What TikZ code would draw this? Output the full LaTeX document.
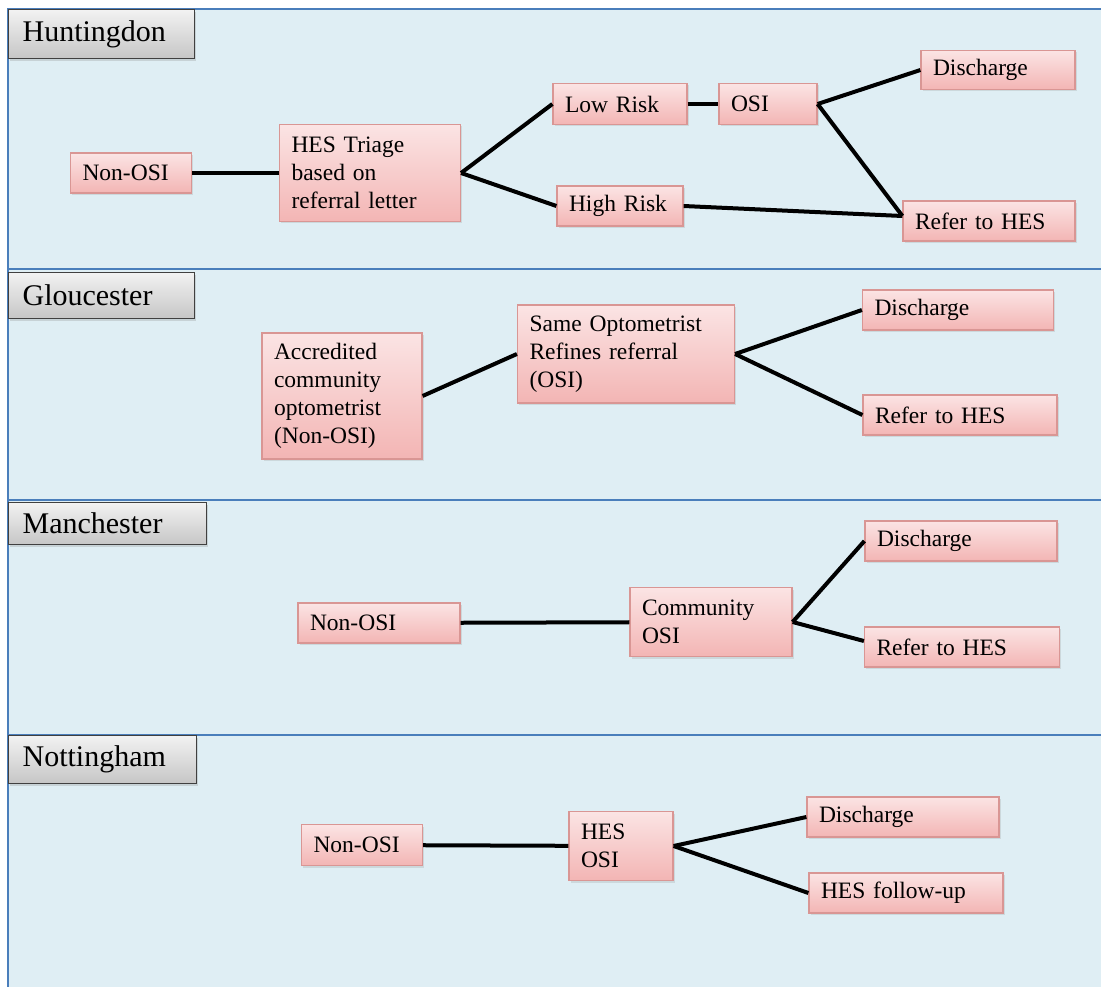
\documentclass[tikz,border=0pt]{standalone}
\usepackage{fontspec}
\setmainfont{Liberation Serif}
\usetikzlibrary{shadows}
\definecolor{panelfill}{HTML}{DFEEF4}
\definecolor{panelline}{HTML}{4A7EBB}
\definecolor{boxtop}{HTML}{FBE4E4}
\definecolor{boxbot}{HTML}{F3B5B4}
\definecolor{boxline}{HTML}{D99694}
\definecolor{tabtop}{HTML}{F2F2F2}
\definecolor{tabbot}{HTML}{C6C6C6}
\tikzset{
  box/.style={rectangle, draw=boxline, line width=1.2pt, top color=boxtop, bottom color=boxbot,
    align=left, inner xsep=12pt, inner ysep=4pt, font=\fontsize{23.5}{28}\selectfont,
    drop shadow={opacity=0.2, shadow xshift=1.5pt, shadow yshift=-2pt}},
  tab/.style={rectangle, draw=black!75, line width=1.2pt, top color=tabtop, bottom color=tabbot,
    anchor=north west, align=left, inner xsep=14pt, inner ysep=0pt, font=\fontsize{30}{32}\selectfont,
    drop shadow={opacity=0.25, shadow xshift=1.5pt, shadow yshift=-2pt}},
  link/.style={line width=4pt},
  sep/.style={draw=panelline, line width=2pt}
}
\begin{document}
\begin{tikzpicture}[x=1pt, y=-1pt]
\useasboundingbox (0,0) rectangle (1101,987);
\fill[panelfill] (8,9) rectangle (1110,995);
\draw[sep] (8,995) -- (8,9) -- (1110,9);
\draw[sep] (8,269) -- (1110,269);
\draw[sep] (8,500) -- (1110,500);
\draw[sep] (8,735) -- (1110,735);

\node[tab, text width=158pt, minimum height=49pt] (TH) at (8,9) {Huntingdon};
\node[tab, text width=158pt, minimum height=46pt] (TG) at (8,272) {Gloucester};
\node[tab, text width=170pt, minimum height=42pt] (TM) at (8,502) {Manchester};
\node[tab, text width=160pt, minimum height=48pt] (TN) at (8,735) {Nottingham};

\node[box, text width=97pt, minimum height=40pt] (HN) at (131,173) {Non-OSI};
\node[box, text width=157pt, minimum height=97pt] (HT) at (370,173) {HES Triage\\based on\\referral letter};
\node[box, text width=110pt, minimum height=41pt] (HL) at (620,104) {Low Risk};
\node[box, text width=74pt, minimum height=41pt] (HO) at (768,104) {OSI};
\node[box, text width=130pt, minimum height=39pt] (HD) at (998,70) {Discharge};
\node[box, text width=102pt, minimum height=40pt] (HH) at (620,206) {High Risk};
\node[box, text width=148pt, minimum height=40pt] (HR) at (989,221) {Refer to HES};

\draw[link] (HN) -- (HT);
\draw[link] (HT.east) -- (HL.west);
\draw[link] (HT.east) -- (HH.west);
\draw[link] (HL) -- (HO);
\draw[link] (HO.east) -- (HD.west);
\draw[link] (HO.east) -- ([yshift=5pt]HR.west);
\draw[link] (HH.east) -- ([yshift=5pt]HR.west);

\node[box, text width=136pt, minimum height=126pt] (GA) at (342,396) {Accredited\\community\\optometrist\\(Non-OSI)};
\node[box, text width=193pt, minimum height=98pt] (GS) at (626,354) {Same Optometrist\\Refines referral\\(OSI)};
\node[box, text width=167pt, minimum height=40pt] (GD) at (958,310) {Discharge};
\node[box, text width=170pt, minimum height=40pt] (GR) at (960,415) {Refer to HES};

\draw[link] (GA.east) -- (GS.west);
\draw[link] (GS.east) -- (GD.west);
\draw[link] (GS.east) -- (GR.west);

\node[box, text width=138pt, minimum height=40pt] (MN) at (379,623) {Non-OSI};
\node[box, text width=138pt, minimum height=69pt] (MC) at (711,622) {Community\\OSI};
\node[box, text width=168pt, minimum height=40pt] (MD) at (961,541) {Discharge};
\node[box, text width=171pt, minimum height=40pt] (MR) at (962,647) {Refer to HES};

\draw[link] (MN) -- (MC);
\draw[link] (MC.east) -- (MD.west);
\draw[link] (MC.east) -- ([yshift=6pt]MR.west);

\node[box, text width=97pt, minimum height=41pt] (NN) at (362,845) {Non-OSI};
\node[box, text width=80pt, minimum height=69pt] (NO) at (621,846) {HES\\OSI};
\node[box, text width=168pt, minimum height=40pt] (ND) at (903,817) {Discharge};
\node[box, text width=170pt, minimum height=40pt] (NF) at (906,893) {HES follow-up};

\draw[link] (NN) -- (NO);
\draw[link] (NO.east) -- (ND.west);
\draw[link] (NO.east) -- (NF.west);
\end{tikzpicture}
\end{document}
